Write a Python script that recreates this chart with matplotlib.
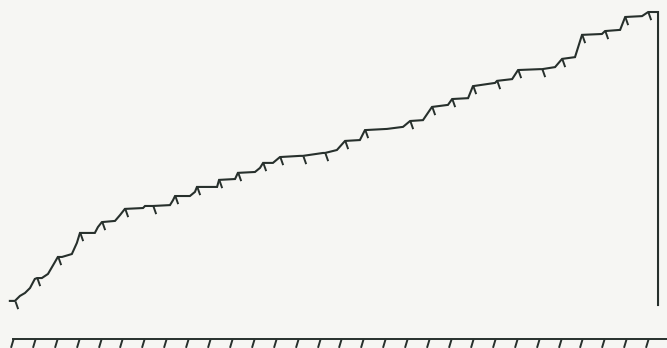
import matplotlib
matplotlib.use("Agg")
import matplotlib.pyplot as plt
import numpy as np
from matplotlib.path import Path

# cumulative series: week position and running total
weeks = [-0.14, 0.09, 0.32, 0.55, 0.78, 1.00, 1.10, 1.32, 1.60, 1.92,
         2.05, 2.24, 2.69, 2.92, 3.06, 3.74, 3.88, 4.06, 4.66, 4.89,
         5.11, 5.94, 6.03, 6.39, 7.17, 7.31, 7.40, 8.08, 8.31, 8.40,
         9.32, 9.41, 10.14, 10.27, 11.05, 11.28, 11.42, 11.87, 12.19, 13.11,
         13.24, 14.16, 14.25, 14.79, 15.16, 15.84, 16.07, 17.08, 17.81, 18.13,
         18.72, 19.13, 19.86, 20.05, 20.78, 21.00, 22.01, 22.10, 22.79, 23.06,
         24.06, 24.16, 24.75, 25.07, 25.66, 25.98, 26.89, 27.03, 27.72, 27.95,
         28.72, 29.00, 29.45, 29.45]
totals = [1.4, 1.4, 3.1, 4.1, 5.8, 8.9, 9.2, 9.2, 10.6, 14.7,
          16.4, 16.4, 17.4, 21.2, 24.6, 24.6, 26.6, 28.3, 28.7, 30.7,
          32.8, 33.1, 33.8, 33.8, 34.1, 35.8, 37.2, 37.2, 38.6, 40.3,
          40.3, 42.7, 43.0, 45.1, 45.4, 46.8, 48.5, 48.5, 50.5, 50.9,
          50.9, 51.9, 51.9, 52.9, 56.0, 56.3, 59.7, 60.1, 60.8, 62.8,
          63.1, 67.6, 68.3, 70.3, 70.6, 74.7, 75.8, 76.5, 77.1, 80.2,
          80.5, 80.5, 81.2, 84.0, 84.6, 92.2, 92.5, 93.5, 93.9, 98.3,
          98.6, 100.0, 100.0, 0.0]
# points carrying a weekly marker
marked = [1, 6, 10, 14, 17, 20, 23, 26, 29, 31, 33, 36, 38, 40, 42, 44,
          46, 49, 51, 53, 55, 57, 59, 61, 63, 65, 67, 69, 71]
week_ticks = list(range(30))

ink = "#27302c"
paper = "#f6f6f3"

# short slanted strokes: one hanging right of a point, one leaning left for the axis
slash = Path([(0, 0), (0.35, -1)], [Path.MOVETO, Path.LINETO])
backslash = Path([(0, 0), (-0.3, -1)], [Path.MOVETO, Path.LINETO])

fig = plt.figure(figsize=(6.67, 3.48), dpi=100, facecolor=paper)
ax = fig.add_axes([0, 9 / 348, 1, 339 / 348], facecolor=paper)

ax.plot(weeks, totals, color=ink, lw=1.5, solid_joinstyle="miter",
        marker=slash, markevery=marked, markersize=11,
        markeredgewidth=1.4, markeredgecolor=ink, clip_on=False)

ax.set_xlim(-0.59, 29.86)
ax.set_ylim(-11.6, 104.1)

for side in ["top", "right", "left"]:
    ax.spines[side].set_visible(False)
ax.spines["bottom"].set_bounds(0, 29.86)
ax.spines["bottom"].set_color(ink)
ax.spines["bottom"].set_linewidth(1.4)

ax.set_yticks([])
ax.set_xticks(week_ticks)
ax.set_xticklabels([])
ax.tick_params(axis="x", length=8, width=1.4, color=ink)
for t in ax.xaxis.get_major_ticks():
    t.tick1line.set_marker(backslash)
    t.tick1line.set_markersize(12)

fig.savefig("out.png", dpi=100, facecolor=paper)
